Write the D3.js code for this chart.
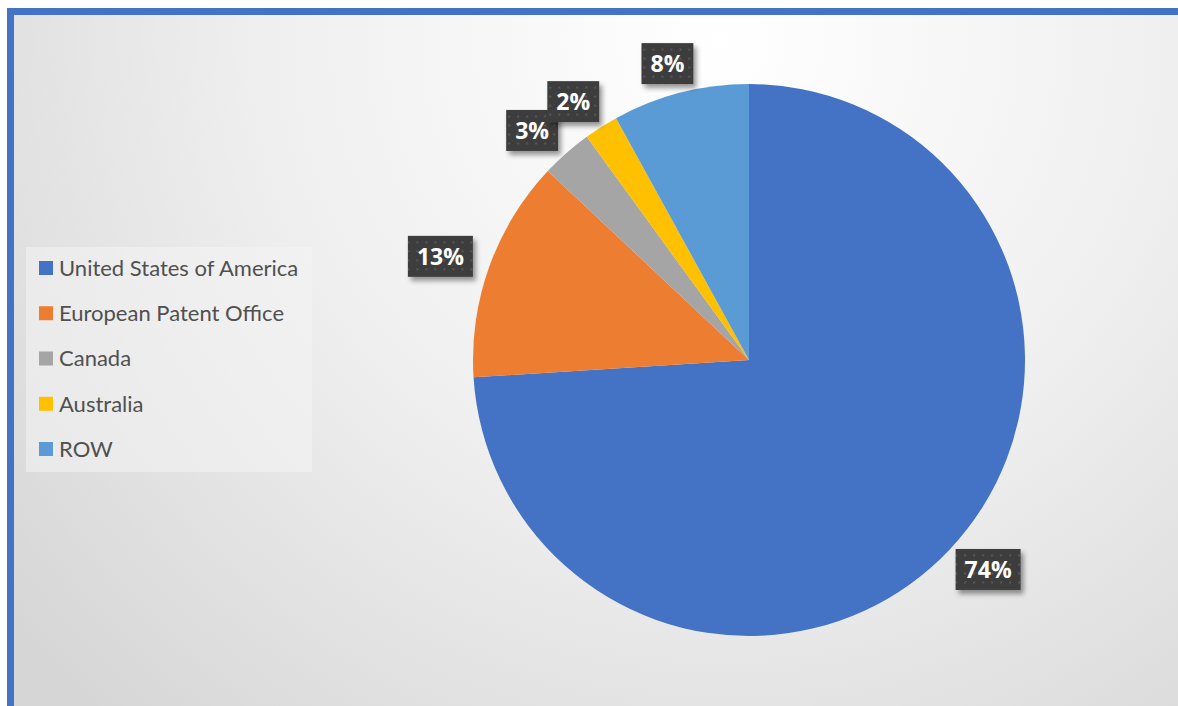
<!DOCTYPE html>
<html>
<head>
<meta charset="utf-8">
<script src="https://cdn.jsdelivr.net/npm/d3@7"></script>
<style>
  html, body { margin: 0; padding: 0; background: #ffffff; }
  svg { display: block; }
</style>
</head>
<body>
<svg id="chart" width="1178" height="706"></svg>
<script>
// Patent filings by office, share of total (%)
const categories = ["United States of America", "European Patent Office", "Canada", "Australia", "ROW"];
const shares = [74, 13, 3, 2, 8];
const sliceColors = ["#4472c4", "#ed7d31", "#a5a5a5", "#ffc000", "#5b9bd5"];

const W = 1178, H = 706;
const svg = d3.select("#chart");
const defs = svg.append("defs");

// Soft radial background
const bg = defs.append("radialGradient")
  .attr("id", "bgGrad")
  .attr("gradientUnits", "userSpaceOnUse")
  .attr("cx", 720).attr("cy", 40).attr("r", 920);
bg.append("stop").attr("offset", "0").attr("stop-color", "#ffffff");
bg.append("stop").attr("offset", "0.5").attr("stop-color", "#efefef");
bg.append("stop").attr("offset", "1").attr("stop-color", "#d6d6d6");

// Dotted dark fill for the data labels
const pat = defs.append("pattern")
  .attr("id", "dots")
  .attr("patternUnits", "userSpaceOnUse")
  .attr("width", 9).attr("height", 9);
pat.append("rect").attr("width", 9).attr("height", 9).attr("fill", "#3e3e3e");
pat.append("rect").attr("x", 3).attr("y", 3).attr("width", 2).attr("height", 2).attr("fill", "#575757");

const shadow = defs.append("filter").attr("id", "shadow")
  .attr("x", "-30%").attr("y", "-30%").attr("width", "160%").attr("height", "170%");
shadow.append("feDropShadow")
  .attr("dx", 3).attr("dy", 4).attr("stdDeviation", 2.5)
  .attr("flood-color", "#000").attr("flood-opacity", 0.4);

// Chart area with blue frame
svg.append("rect")
  .attr("x", 10.5).attr("y", 11.5)
  .attr("width", W + 20).attr("height", H + 20)
  .attr("fill", "url(#bgGrad)")
  .attr("stroke", "#4472c4")
  .attr("stroke-width", 7);

// Pie
const cx = 749, cy = 360, radius = 276;
const pie = d3.pie().sort(null).value(d => d)(shares);
const arc = d3.arc().innerRadius(0).outerRadius(radius);

const g = svg.append("g").attr("transform", `translate(${cx},${cy})`);
g.selectAll("path.slice")
  .data(pie)
  .join("path")
  .attr("class", "slice")
  .attr("d", arc)
  .attr("fill", (d, i) => sliceColors[i]);

// Data labels placed just outside each slice
const labelRx = 328, labelRy = 306;
const labelH = 41;
const labels = g.selectAll("g.lbl")
  .data(pie)
  .join("g")
  .attr("class", "lbl")
  .attr("transform", d => {
    const a = (d.startAngle + d.endAngle) / 2;
    return `translate(${labelRx * Math.sin(a)},${-labelRy * Math.cos(a)})`;
  });

labels.each(function (d) {
  const sel = d3.select(this);
  const box = sel.append("rect").attr("fill", "url(#dots)").attr("filter", "url(#shadow)");
  const t = sel.append("text")
    .attr("text-anchor", "middle")
    .attr("dy", "0.36em")
    .attr("fill", "#ffffff")
    .style("font-family", "'Open Sans', Lato, sans-serif")
    .style("font-weight", "bold")
    .style("font-size", "23px")
    .text(d.data + "%");
  const w = t.node().getComputedTextLength() + 18;
  box.attr("x", -w / 2).attr("y", -labelH / 2).attr("width", w).attr("height", labelH);
});

// Legend
const legendY = d3.scalePoint().domain(categories).range([268, 449]);
const legend = svg.append("g");
legend.append("rect")
  .attr("x", 26).attr("y", 247).attr("width", 286).attr("height", 225)
  .attr("fill", "#f4f4f4").attr("fill-opacity", 0.55);

const items = legend.selectAll("g.item")
  .data(categories)
  .join("g")
  .attr("class", "item")
  .attr("transform", d => `translate(0,${legendY(d)})`);
items.append("rect")
  .attr("x", 39).attr("y", -7).attr("width", 14).attr("height", 14)
  .attr("fill", (d, i) => sliceColors[i]);
items.append("text")
  .attr("x", 59).attr("dy", "0.36em")
  .attr("fill", "#505050")
  .style("font-family", "Lato, 'Open Sans', sans-serif")
  .style("font-size", "22px")
  .text(d => d);
</script>
</body>
</html>
